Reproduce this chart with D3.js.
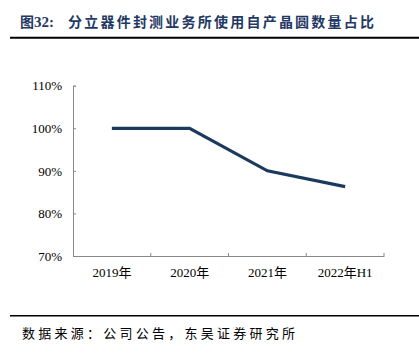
<!DOCTYPE html>
<html><head><meta charset="utf-8">
<script src="https://cdn.jsdelivr.net/npm/d3@7"></script>
<style>body{margin:0;background:#fff}svg{display:block}</style>
</head><body><svg id="c" width="419" height="355"></svg>
<script>
const categories = ["2019年", "2020年", "2021年", "2022年H1"];
const values = [100, 100, 90, 86.3];
const yTicks = [70, 80, 90, 100, 110];
const titleHead = "图32:";
const titleBody = "分立器件封测业务所使用自产晶圆数量占比";
const source = "数据来源：公司公告，东吴证券研究所";

const svg = d3.select("#c");
const mLeft = 73, mRight = 384, mTop = 85.7, mBottom = 256;
const x = d3.scaleBand().domain(categories).range([mLeft, mRight]);
const y = d3.scaleLinear().domain([70, 110]).range([mBottom, mTop]);

const t = svg.append("text").attr("x", 20).attr("y", 26.5)
  .attr("font-family", "Liberation Serif, Noto Sans CJK SC").attr("font-weight", "bold")
  .attr("font-size", 15).attr("fill", "#1f3864");
t.append("tspan").attr("font-family", "Noto Sans CJK SC").attr("font-size", 14).text(titleHead.slice(0, 1));
t.append("tspan").text(titleHead.slice(1));
svg.append("text").attr("x", 68).attr("y", 26.5)
  .attr("font-family", "Noto Sans CJK SC").attr("font-weight", "bold")
  .attr("font-size", 14).attr("fill", "#1f3864")
  .attr("textLength", 306).attr("lengthAdjust", "spacing").text(titleBody);
svg.append("line").attr("x1", 10).attr("x2", 419).attr("y1", 37.7).attr("y2", 37.7)
  .attr("stroke", "#000").attr("stroke-width", 2);

const yAxis = svg.append("g").attr("transform", `translate(${mLeft},0)`)
  .call(d3.axisLeft(y).tickValues(yTicks).tickSize(-3).tickPadding(11).tickFormat(d => d + "%"));
const xAxis = svg.append("g").attr("transform", `translate(0,${mBottom})`)
  .call(d3.axisBottom(x).tickSize(0).tickPadding(12));
xAxis.selectAll(".bt").data(categories).enter().append("line")
  .attr("class", "bt")
  .attr("x1", (d, i) => mLeft + x.step() * (i + 1))
  .attr("x2", (d, i) => mLeft + x.step() * (i + 1))
  .attr("y1", 0).attr("y2", -3).attr("stroke", "#888");
[yAxis, xAxis].forEach(g => {
  g.select(".domain").attr("stroke", "#888");
  g.selectAll(".tick line").attr("stroke", "#888");
  g.selectAll("text").attr("font-family", "Liberation Serif, Noto Sans CJK SC").attr("font-size", 13).attr("fill", "#000");
});

svg.append("path").datum(values)
  .attr("fill", "none").attr("stroke", "#1c3a5e").attr("stroke-width", 3.2)
  .attr("d", d3.line().x((d, i) => x(categories[i]) + x.bandwidth() / 2).y(d => y(d)));

svg.append("line").attr("x1", 10).attr("x2", 419).attr("y1", 315.7).attr("y2", 315.7)
  .attr("stroke", "#000").attr("stroke-width", 1.5);
svg.append("text").attr("x", 22).attr("y", 337.5)
  .attr("textLength", 273).attr("lengthAdjust", "spacing")
  .attr("font-family", "Noto Sans CJK SC").attr("font-size", 13).attr("fill", "#000").text(source);
</script></body></html>
